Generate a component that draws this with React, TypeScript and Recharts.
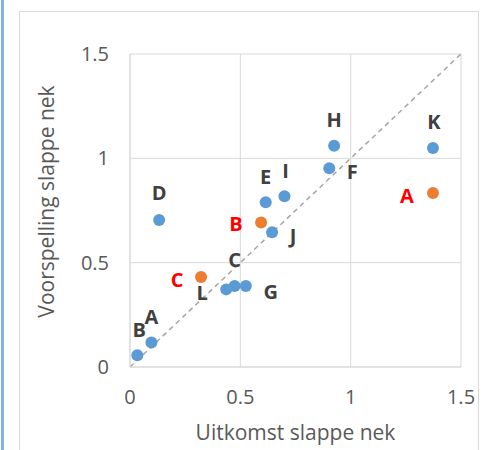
import React from "react";
import {
  ScatterChart,
  Scatter,
  XAxis,
  YAxis,
  CartesianGrid,
  ReferenceLine,
  Label,
} from "recharts";

// uitkomst (x) vs voorspelling (y)
const blueNames = ["A", "B", "C", "D", "E", "F", "G", "H", "I", "J", "K", "L"];
const blueX = [0.097, 0.033, 0.474, 0.132, 0.615, 0.903, 0.525, 0.925, 0.7, 0.644, 1.373, 0.436];
const blueY = [0.117, 0.056, 0.388, 0.705, 0.79, 0.953, 0.388, 1.06, 0.818, 0.646, 1.05, 0.372];

const orangeNames = ["A", "B", "C"];
const orangeX = [1.373, 0.594, 0.322];
const orangeY = [0.834, 0.692, 0.431];

const axisTicks = [0, 0.5, 1, 1.5];

const BLUE = "#5b9bd5";
const ORANGE = "#ed7d31";
const FONT = "'Open Sans', sans-serif";

// where each letter sits relative to its dot
const blueLabelPos: Record<string, [number, number]> = {
  A: [0, -26], B: [2, -26], C: [0, -27], D: [0, -27], E: [0, -26], F: [23, 3],
  G: [25, 5], H: [0, -26], I: [1, -26], J: [21, 3], K: [1, -26], L: [-24, 3],
};
const orangeLabelPos: Record<string, [number, number]> = {
  A: [-26, 3], B: [-25, 1], C: [-24, 2],
};

const blueData = blueNames.map((name, i) => ({ name, x: blueX[i], y: blueY[i] }));
const orangeData = orangeNames.map((name, i) => ({ name, x: orangeX[i], y: orangeY[i] }));

function makeDot(fill: string, textColor: string, pos: Record<string, [number, number]>) {
  return (p: any) => {
    const name = p.payload?.name ?? p.name;
    const [dx, dy] = pos[name] ?? [0, -26];
    return (
      <g>
        <circle cx={p.cx} cy={p.cy} r={6} fill={fill} />
        <text
          x={p.cx + dx}
          y={p.cy + dy}
          textAnchor="middle"
          dominantBaseline="central"
          fontFamily={FONT}
          fontWeight={700}
          fontSize={20}
          fill={textColor}
        >
          {name}
        </text>
      </g>
    );
  };
}

const YTitle = (props: any) => {
  const vb = props.viewBox;
  const cx = 46;
  const cy = vb.y + vb.height / 2 - 9;
  return (
    <text
      x={cx}
      y={cy}
      transform={`rotate(-90 ${cx} ${cy})`}
      textAnchor="middle"
      dominantBaseline="central"
      fontFamily={FONT}
      fontSize={21}
      fill="#595959"
    >
      Voorspelling slappe nek
    </text>
  );
};

const XTitle = (props: any) => {
  const vb = props.viewBox;
  const cx = vb.x + vb.width / 2;
  return (
    <text
      x={cx}
      y={432}
      textAnchor="middle"
      dominantBaseline="central"
      fontFamily={FONT}
      fontSize={21}
      fill="#595959"
    >
      Uitkomst slappe nek
    </text>
  );
};

export default function App() {
  const tick = { fontSize: 20, fill: "#595959", fontFamily: FONT };
  return (
    <div style={{ position: "absolute", left: 0, top: 0, width: 491, height: 450, background: "#fff", overflow: "hidden" }}>
      {/* side bar + chart frame */}
      <div style={{ position: "absolute", left: 1, top: 0, width: 3, height: 450, background: "#7cb4e6" }} />
      <div
        style={{
          position: "absolute",
          left: 19,
          top: 11,
          width: 458,
          height: 460,
          border: "1px solid #d9d9d9",
        }}
      />
      <div style={{ position: "absolute", left: 0, top: 0 }}>
        <ScatterChart width={491} height={450} margin={{ top: 54, right: 30, bottom: 53, left: 20 }}>
          <CartesianGrid stroke="#d9d9d9" />
          <XAxis
            type="number"
            dataKey="x"
            domain={[0, 1.5]}
            ticks={axisTicks}
            height={30}
            tickLine={false}
            tickSize={0}
            tickMargin={23}
            axisLine={{ stroke: "#d9d9d9" }}
            tick={tick}
          >
            <Label content={XTitle} />
          </XAxis>
          <YAxis
            type="number"
            dataKey="y"
            domain={[0, 1.5]}
            ticks={axisTicks}
            width={110}
            tickLine={false}
            tickSize={0}
            tickMargin={21}
            axisLine={{ stroke: "#d9d9d9" }}
            tick={tick}
          >
            <Label content={YTitle} />
          </YAxis>
          <ReferenceLine
            segment={[{ x: 0, y: 0 }, { x: 1.5, y: 1.5 }]}
            stroke="#a6a6a6"
            strokeWidth={1.5}
            strokeDasharray="5 4"
          />
          <Scatter data={blueData} isAnimationActive={false} shape={makeDot(BLUE, "#404040", blueLabelPos)} />
          <Scatter data={orangeData} isAnimationActive={false} shape={makeDot(ORANGE, "#ff0000", orangeLabelPos)} />
        </ScatterChart>
      </div>
    </div>
  );
}
